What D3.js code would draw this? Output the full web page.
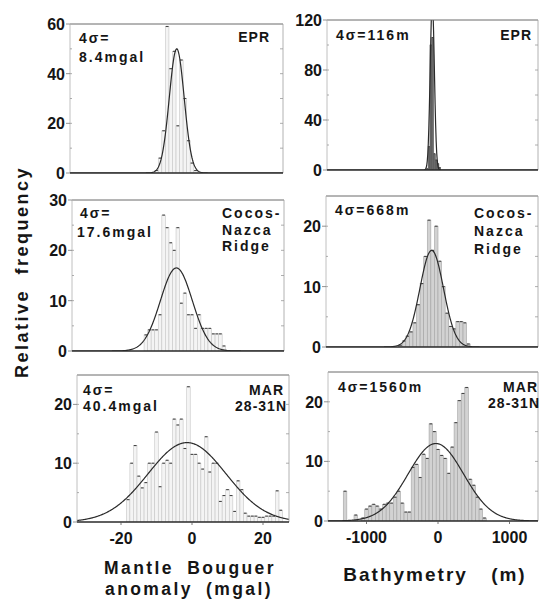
<!DOCTYPE html>
<html>
<head>
<meta charset="utf-8">
<script src="https://d3js.org/d3.v7.min.js"></script>
<style>
  body { margin: 0; background: #fff; }
  svg text { font-family: "Liberation Sans", Arial, sans-serif; font-weight: bold; fill: #151515; }
  .tick-label { font-size: 16px; }
  .note { font-size: 14px; letter-spacing: 2px; }
  .title { font-size: 19px; letter-spacing: 2px; }
</style>
</head>
<body>
<svg width="540" height="599"></svg>
<script>
// ---- data ----
// histogram bins: first bin centre, bin width, relative frequency per bin
var eprGravStart = -10, gravBin = 1;
var eprGrav = [1, 6, 17, 59, 42, 49, 19, 45.5, 30, 13, 4, 1];

var cocosGravStart = -13;
var cocosGrav = [3.2, 4.2, 4.2, 4.2, 7.2, 27, 24.5, 21.5, 20, 24.5, 9.5, 11.5, 7.2,
                 7.2, 4.5, 7.2, 4.5, 4.5, 4.5, 3.4, 3.4, 3.4, 1];

var marGravStart = -18;
var marGrav = [3.8, 10, 13, 7.8, 5.8, 6.7, 10, 10, 15.3, 6, 10, 10.5, 10, 17.5, 16.5,
               17.5, 12.5, 23, 11.5, 11.5, 10, 9, 14.5, 8.5, 10, 10, 3.5, 4.5, 5.5, 4.5,
               1.8, 7, 5.5, 1.5, 1, 1, 1, 0.8, 0.8, 1, 1, 1, 5.3, 2];

var eprBathStart = -150, eprBathBin = 25;
var eprBath = [1, 18.7, 100, 106, 13, 8, 5, 2];

var cocosBathStart = -525, bathBin = 50;
var cocosBath = [0.3, 1, 1.8, 2.5, 4, 7, 10.5, 15, 21, 16, 20, 14.2, 10, 5.6, 3.4, 3,
                 4.2, 4.2, 4, 0.5];

var marBathStart = -1300;
var marBath = [5, 0, 0, 1, 0, 0.5, 2, 2.5, 2.8, 2.5, 2, 2.8, 3, 3, 4, 5, 3, 1.5, 1.5,
               9, 9.5, 7.3, 11.2, 10.5, 16.3, 15, 12, 11, 10.5, 8, 12.4, 16.5, 20.2,
               21.4, 22.4, 7, 6, 4, 2, 0.5];

// fitted normal curves: [mean, sigma, peak]
var eprGravFit = [-4.3, 2.1, 50];
var cocosGravFit = [-4.4, 4.5, 16.5];
var marGravFit = [-1.4, 11, 13.5];
var eprBathFit = [-80, 29, 135];
var cocosBathFit = [-88, 165, 16];
var marBathFit = [-30, 388, 13];

var gravTicks = [-20, 0, 20];
var bathTicks = [-1000, 0, 1000];

var svg = d3.select("svg");

// column x scales (shared by the three panels of a column)
var xGrav = d3.scaleLinear().domain([0, 20]).range([192, 263]);
var xBath = d3.scaleLinear().domain([0, 1000]).range([438, 509.5]);

var panels = [
  { box: [70, 283, 24, 173], x: xGrav, ymax: 60, major: [0, 20, 40, 60], minor: 10,
    start: eprGravStart, bin: gravBin, values: eprGrav, fit: eprGravFit, kind: "g",
    left: [["4σ=", 79, 43], ["8.4mgal", 79, 62]], right: [["EPR", 270, 42]] },
  { box: [327, 538, 20, 170], x: xBath, ymax: 120, major: [0, 40, 80, 120], minor: 20,
    start: eprBathStart, bin: eprBathBin, values: eprBath, fit: eprBathFit, kind: "d",
    left: [["4σ=116m", 336, 40]], right: [["EPR", 532, 40]] },
  { box: [72, 284, 200, 351], x: xGrav, ymax: 30, major: [0, 10, 20, 30], minor: 5,
    start: cocosGravStart, bin: gravBin, values: cocosGrav, fit: cocosGravFit, kind: "g",
    left: [["4σ=", 80, 218], ["17.6mgal", 77, 237]],
    right: [["Cocos-", 222, 218, "start"], ["Nazca", 222, 235, "start"], ["Ridge", 222, 251, "start"]] },
  { box: [326, 538, 196, 347], x: xBath, ymax: 25, major: [0, 10, 20], minor: 5,
    start: cocosBathStart, bin: bathBin, values: cocosBath, fit: cocosBathFit, kind: "b",
    left: [["4σ=668m", 335, 215]],
    right: [["Cocos-", 474, 218, "start"], ["Nazca", 474, 236, "start"], ["Ridge", 474, 254, "start"]] },
  { box: [77, 289, 375, 522], x: xGrav, ymax: 25, major: [0, 10, 20], minor: 5,
    start: marGravStart, bin: gravBin, values: marGrav, fit: marGravFit, kind: "g",
    left: [["4σ=", 83, 395], ["40.4mgal", 83, 411]], right: [["MAR", 284, 395], ["28-31N", 287, 411]],
    ticks: gravTicks },
  { box: [328, 538, 372, 521], x: xBath, ymax: 25, major: [0, 10, 20], minor: 5,
    start: marBathStart, bin: bathBin, values: marBath, fit: marBathFit, kind: "b",
    left: [["4σ=1560m", 338, 392]], right: [["MAR", 538, 392], ["28-31N", 540, 408]],
    ticks: bathTicks }
];

var fills = { g: "#f4f4f4", b: "#d2d2d2", d: "#6a6a6a" };
var edges = { g: "#c6c6c6", b: "#a4a4a4", d: "#555" };

panels.forEach(function(p, k) {
  var x0 = p.box[0], x1 = p.box[1], yTop = p.box[2], yBot = p.box[3];
  var x = p.x;
  var y = d3.scaleLinear().domain([0, p.ymax]).range([yBot, yTop]);
  var g = svg.append("g");

  g.append("clipPath").attr("id", "clip" + k)
    .append("rect").attr("x", x0).attr("y", yTop).attr("width", x1 - x0).attr("height", yBot - yTop);

  var plot = g.append("g").attr("clip-path", "url(#clip" + k + ")");

  // bars
  var bars = p.values.map(function(v, i) {
    var c = p.start + i * p.bin;
    return { a: c - p.bin / 2, b: c + p.bin / 2, v: v };
  }).filter(function(d) { return d.v > 0; });

  plot.selectAll("rect.bar").data(bars).enter().append("rect")
    .attr("class", "bar")
    .attr("x", function(d) { return x(d.a); })
    .attr("width", function(d) { return x(d.b) - x(d.a); })
    .attr("y", function(d) { return y(d.v); })
    .attr("height", function(d) { return yBot - y(d.v); })
    .attr("fill", fills[p.kind])
    .attr("stroke", edges[p.kind])
    .attr("stroke-width", 0.6);

  // short dark dash at each bar top
  plot.selectAll("line.top").data(bars).enter().append("line")
    .attr("x1", function(d) { return x(d.a) + 0.4; })
    .attr("x2", function(d) { return x(d.b) - 0.4; })
    .attr("y1", function(d) { return y(d.v); })
    .attr("y2", function(d) { return y(d.v); })
    .attr("stroke", "#444").attr("stroke-width", 1.1);

  // fitted normal curve
  var m = p.fit[0], s = p.fit[1], pk = p.fit[2];
  var xs = d3.range(0, 401).map(function(i) { return x.invert(x0 + (x1 - x0) * i / 400); });
  var line = d3.line()
    .x(function(v) { return x(v); })
    .y(function(v) { return y(pk * Math.exp(-0.5 * Math.pow((v - m) / s, 2))); });
  plot.append("path").datum(xs).attr("d", line)
    .attr("fill", "none").attr("stroke", "#2a2a2a").attr("stroke-width", 1.2);

  // frame
  g.append("line").attr("x1", x0).attr("x2", x1).attr("y1", yTop).attr("y2", yTop)
    .attr("stroke", "#6a6a6a").attr("stroke-width", 1);
  g.append("line").attr("x1", x0).attr("x2", x0).attr("y1", yTop).attr("y2", yBot)
    .attr("stroke", "#b0b0b0").attr("stroke-width", 0.8);
  g.append("line").attr("x1", x1).attr("x2", x1).attr("y1", yTop).attr("y2", yBot)
    .attr("stroke", "#a0a0a0").attr("stroke-width", 0.8);
  g.append("line").attr("x1", x0).attr("x2", x1).attr("y1", yBot).attr("y2", yBot)
    .attr("stroke", "#2a2a2a").attr("stroke-width", 1.5);

  // y ticks
  var minorVals = d3.range(p.minor, p.ymax, p.minor);
  g.selectAll("line.mn").data(minorVals).enter().append("line")
    .attr("x1", x0).attr("x2", x0 + 2)
    .attr("y1", function(d) { return y(d); }).attr("y2", function(d) { return y(d); })
    .attr("stroke", "#999").attr("stroke-width", 0.8);
  g.selectAll("line.mr").data(minorVals).enter().append("line")
    .attr("x1", x1 - 3).attr("x2", x1)
    .attr("y1", function(d) { return y(d); }).attr("y2", function(d) { return y(d); })
    .attr("stroke", "#999").attr("stroke-width", 0.8);
  g.selectAll("line.mj").data(p.major).enter().append("line")
    .attr("x1", x0 - 4).attr("x2", x0)
    .attr("y1", function(d) { return y(d); }).attr("y2", function(d) { return y(d); })
    .attr("stroke", "#777").attr("stroke-width", 0.8);
  g.selectAll("text.yl").data(p.major).enter().append("text")
    .attr("class", "tick-label")
    .attr("x", x0 - 5).attr("y", function(d) { return y(d) + 6; })
    .attr("text-anchor", "end")
    .text(function(d) { return d; });

  // x ticks (bottom row only)
  if (p.ticks) {
    g.selectAll("line.xt").data(p.ticks).enter().append("line")
      .attr("x1", function(d) { return x(d); }).attr("x2", function(d) { return x(d); })
      .attr("y1", yBot).attr("y2", yBot + 3)
      .attr("stroke", "#555").attr("stroke-width", 0.8);
    g.selectAll("text.xl").data(p.ticks).enter().append("text")
      .attr("class", "tick-label")
      .attr("x", function(d) { return x(d); }).attr("y", yBot + 22)
      .attr("text-anchor", "middle")
      .text(function(d) { return d; });
  }

  // annotations
  p.left.forEach(function(t) {
    g.append("text").attr("class", "note").attr("x", t[1]).attr("y", t[2]).text(t[0]);
  });
  p.right.forEach(function(t) {
    g.append("text").attr("class", "note").attr("x", t[1]).attr("y", t[2])
      .attr("text-anchor", t[3] || "end")
      .style("letter-spacing", t[3] ? "2px" : "1px")
      .text(t[0]);
  });
});

// axis titles
svg.append("text")
  .attr("transform", "translate(28,272) rotate(-90)")
  .attr("text-anchor", "middle")
  .style("font-size", "18px").style("letter-spacing", "2.5px").style("word-spacing", "7px")
  .text("Relative frequency");

svg.append("text").attr("class", "title").attr("x", 190).attr("y", 574)
  .attr("text-anchor", "middle").style("font-size", "17.5px")
  .style("letter-spacing", "2.4px").style("word-spacing", "6px").text("Mantle Bouguer");
svg.append("text").attr("class", "title").attr("x", 189).attr("y", 595)
  .attr("text-anchor", "middle").style("font-size", "17.5px")
  .style("letter-spacing", "2.4px").style("word-spacing", "6px").text("anomaly (mgal)");
svg.append("text").attr("class", "title").attr("x", 435).attr("y", 581)
  .attr("text-anchor", "middle").style("word-spacing", "16px").text("Bathymetry (m)");
</script>
</body>
</html>
